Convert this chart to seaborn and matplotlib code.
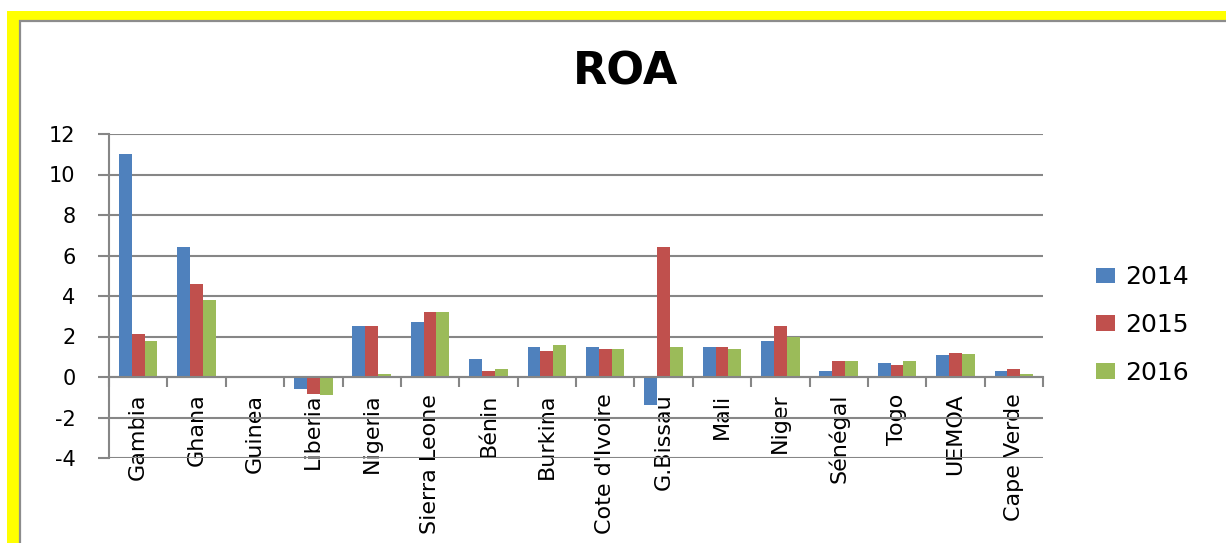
import pandas as pd
import matplotlib.pyplot as plt
import seaborn as sns
from matplotlib.patches import Rectangle

# Datos ROA por país
countries = ["Gambia", "Ghana", "Guinea", "Liberia", "Nigeria", "Sierra Leone",
             "Bénin", "Burkina", "Cote d'Ivoire", "G.Bissau", "Mali", "Niger",
             "Sénégal", "Togo", "UEMOA", "Cape Verde"]
years = ["2014", "2015", "2016"]
roa_2014 = [11.0, 6.4, 0.0, -0.6, 2.5, 2.7, 0.9, 1.5, 1.5, -1.4, 1.5, 1.8, 0.3, 0.7, 1.1, 0.3]
roa_2015 = [2.1, 4.6, 0.0, -0.85, 2.5, 3.2, 0.3, 1.3, 1.4, 6.4, 1.5, 2.5, 0.8, 0.6, 1.2, 0.4]
roa_2016 = [1.8, 3.8, 0.0, -0.9, 0.15, 3.2, 0.4, 1.6, 1.4, 1.5, 1.4, 2.0, 0.8, 0.8, 1.15, 0.15]
colors = ["#4F81BD", "#C0504D", "#9BBB59"]
yticks = [-4, -2, 0, 2, 4, 6, 8, 10, 12]

df = pd.DataFrame({
    "country": countries * 3,
    "year": [y for y in years for _ in countries],
    "roa": roa_2014 + roa_2015 + roa_2016,
})

sns.set_theme(style="white")
plt.rcParams['font.family'] = ['DejaVu Sans']
plt.rcParams['text.color'] = 'black'
plt.rcParams['xtick.color'] = 'black'
plt.rcParams['ytick.color'] = 'black'
grid_col = "#868686"

fig = plt.figure(figsize=(12.26, 5.43), dpi=100)

# Marco amarillo + borde gris
W, H = 1226, 543
fig.patches.append(Rectangle((7 / W, -0.1), 1.2, 1.1 - 11 / H, transform=fig.transFigure,
                             facecolor="#FFFF00", edgecolor="none", zorder=-10))
fig.patches.append(Rectangle((20 / W, -0.1), 1.2, 1.1 - 21.5 / H, transform=fig.transFigure,
                             facecolor="white", edgecolor="#8C8C8C", linewidth=1.6, zorder=-9))

ax = fig.add_axes([109 / W, 1 - 458 / H, (1043 - 109) / W, (458 - 134) / H])
ax.patch.set_alpha(0)

sns.barplot(data=df, x="country", y="roa", hue="year", palette=colors, saturation=1,
            width=0.66, gap=0, linewidth=0, errorbar=None, ax=ax)

ax.set_ylim(-4, 12)
ax.set_xlim(-0.5, len(countries) - 0.5)
ax.set_yticks(yticks)
ax.set_yticklabels([str(t) for t in yticks], fontsize=15)
ax.set_xlabel("")
ax.set_ylabel("")

# Ejes estilo Excel
for s in ["top", "right"]:
    ax.spines[s].set_visible(False)
ax.spines["bottom"].set_position(("data", 0))
for s in ["bottom", "left"]:
    ax.spines[s].set_color(grid_col)
    ax.spines[s].set_linewidth(1.5)
ax.yaxis.grid(True, color=grid_col, linewidth=1.5)
ax.set_axisbelow(True)

ax.tick_params(axis="y", which="major", left=True, length=8, width=1.5, color=grid_col,
               labelcolor="black", pad=16)
ax.set_xticks([i - 0.5 for i in range(len(countries) + 1)], minor=True)
ax.tick_params(axis="x", which="minor", bottom=True, length=7, width=1.5, color=grid_col)
ax.tick_params(axis="x", which="major", length=0, pad=12, labelcolor="black")
plt.setp(ax.get_xticklabels(), rotation=90, fontsize=16)

# Leyenda
handles, labels = ax.get_legend_handles_labels()
ax.get_legend().remove()
fig.legend(handles, labels, loc="center left", bbox_to_anchor=(1096 / W, 1 - 325 / H),
           frameon=False, fontsize=18, handlelength=0.75, handleheight=0.6,
           handletextpad=0.4, labelspacing=0.95, borderpad=0, borderaxespad=0)

fig.text(0.51, 1 - 72 / H, "ROA", fontsize=32, fontweight="bold", color="black",
         ha="center", va="center")

plt.savefig("out.png", dpi=100)
plt.close()
